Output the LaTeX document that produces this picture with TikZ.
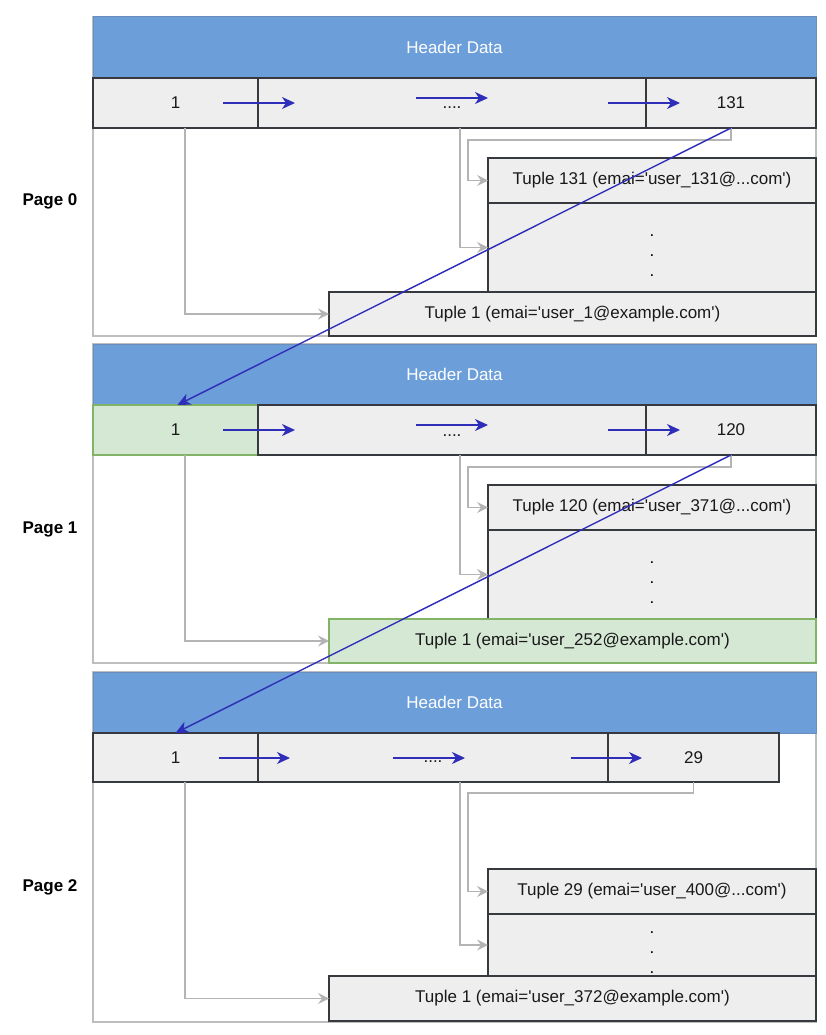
\documentclass[tikz,border=0pt]{standalone}
\usepackage{fontspec}
\setmainfont{Liberation Sans}[Ligatures=TeXOff]
\usetikzlibrary{arrows.meta}
\definecolor{hdrfill}{RGB}{108,158,218}
\definecolor{hdrline}{RGB}{108,142,191}
\definecolor{cellfill}{RGB}{238,238,238}
\definecolor{cellline}{RGB}{54,57,61}
\definecolor{grnfill}{RGB}{213,232,212}
\definecolor{grnline}{RGB}{130,179,102}
\definecolor{pageline}{RGB}{190,190,190}
\definecolor{conn}{RGB}{180,180,180}
\definecolor{ptr}{RGB}{46,46,184}
\tikzset{
  base/.style={inner sep=0pt, outer sep=0pt, anchor=north west, font=\fontsize{17}{20}\selectfont, text=black!90},
  hdr/.style={base, draw=hdrline, fill=hdrfill, line width=1pt, text=white},
  cellbox/.style={base, draw=cellline, fill=cellfill, line width=1.2pt},
  grnbox/.style={base, draw=grnline, fill=grnfill, line width=1.2pt},
  pagebox/.style={base, draw=pageline, line width=1.5pt},
  pglabel/.style={inner sep=0pt, font=\fontsize{17}{20}\selectfont\bfseries},
  dots/.style={align=center, inner sep=0pt, font=\fontsize{17}{20}\selectfont},
  garrow/.style={draw=conn, line width=1.3pt, -{Stealth[length=11pt,width=11pt,inset=4pt]}},
  barrow/.style={draw=ptr, line width=1.4pt, -{Stealth[length=13pt,width=12pt,inset=4pt]}},
}
\begin{document}
\begin{tikzpicture}[x=1pt,y=-1pt]
\useasboundingbox (0,0) rectangle (825,1035);

% ---------------- Page 0 ----------------
\node[pagebox, minimum width=723, minimum height=319] (p0) at (93,17) {};
\node[hdr, minimum width=723, minimum height=61] (p0h) at (93,17) {Header Data};
\node[cellbox, minimum width=165, minimum height=50] (p0c1) at (93,78) {1};
\node[cellbox, minimum width=388, minimum height=50] (p0c2) at (258,78) {\raisebox{-6pt}[0pt][0pt]{....}};
\node[cellbox, minimum width=170, minimum height=50] (p0c3) at (646,78) {131};
\node[cellbox, minimum width=328, minimum height=45] (p0t) at (488,158) {Tuple 131 (emai='user\_131@...com')};
\node[cellbox, minimum width=328, minimum height=89] (p0d) at (488,203) {};
\node[dots] (p0dt) at ([yshift=-8pt]p0d.center) {.\\.\\.};
\node[cellbox, minimum width=487, minimum height=44] (p0b) at (329,292) {Tuple 1 (emai='user\_1@example.com')};
\node[pglabel] (p0l) at (50,201) {Page 0};

% ---------------- Page 1 ----------------
\node[pagebox, minimum width=723, minimum height=319] (p1) at (93,344) {};
\node[hdr, minimum width=723, minimum height=61] (p1h) at (93,344) {Header Data};
\node[grnbox, minimum width=165, minimum height=50] (p1c1) at (93,405) {1};
\node[cellbox, minimum width=388, minimum height=50] (p1c2) at (258,405) {\raisebox{-6pt}[0pt][0pt]{....}};
\node[cellbox, minimum width=170, minimum height=50] (p1c3) at (646,405) {120};
\node[cellbox, minimum width=328, minimum height=45] (p1t) at (488,485) {Tuple 120 (emai='user\_371@...com')};
\node[cellbox, minimum width=328, minimum height=89] (p1d) at (488,530) {};
\node[dots] (p1dt) at ([yshift=-8pt]p1d.center) {.\\.\\.};
\node[grnbox, minimum width=487, minimum height=44] (p1b) at (329,619) {Tuple 1 (emai='user\_252@example.com')};
\node[pglabel] (p1l) at (50,529) {Page 1};

% ---------------- Page 2 ----------------
\node[pagebox, minimum width=723, minimum height=350] (p2) at (93,672) {};
\node[hdr, minimum width=723, minimum height=61] (p2h) at (93,672) {Header Data};
\node[cellbox, minimum width=165, minimum height=49] (p2c1) at (93,733) {1};
\node[cellbox, minimum width=350, minimum height=49] (p2c2) at (258,733) {\raisebox{-5pt}[0pt][0pt]{....}};
\node[cellbox, minimum width=171, minimum height=49] (p2c3) at (608,733) {29};
\node[cellbox, minimum width=328, minimum height=45] (p2t) at (488,869) {Tuple 29 (emai='user\_400@...com')};
\node[cellbox, minimum width=328, minimum height=62] (p2d) at (488,914) {};
\node[dots] (p2dt) at ([yshift=-8pt]p2d.center) {.\\.\\.};
\node[cellbox, minimum width=487, minimum height=45] (p2b) at (329,976) {Tuple 1 (emai='user\_372@example.com')};
\node[pglabel] (p2l) at (50,887) {Page 2};

% ---------------- grey slot connectors ----------------
\draw[garrow] ([xshift=9.5pt]p0c1.south) |- (p0b.west);
\draw[garrow] ([xshift=8pt]p0c2.south) |- (p0d.west);
\draw[garrow] (p0c3.south) -- ++(0,12) -| ([xshift=-20pt]p0t.west) -- (p0t.west);

\draw[garrow] ([xshift=9.5pt]p1c1.south) |- (p1b.west);
\draw[garrow] ([xshift=8pt]p1c2.south) |- (p1d.west);
\draw[garrow] (p1c3.south) -- ++(0,12) -| ([xshift=-20pt]p1t.west) -- (p1t.west);

\draw[garrow] ([xshift=9.5pt]p2c1.south) |- (p2b.west);
\draw[garrow] ([xshift=27pt]p2c2.south) |- (p2d.west);
\draw[garrow] (p2c3.south) -- ++(0,11) -| ([xshift=-20pt]p2t.west) -- (p2t.west);

% ---------------- blue row arrows ----------------
\draw[barrow] ([xshift=47.5pt]p0c1.center) -- ([xshift=37pt]p0c2.west);
\draw[barrow] ([xshift=-36pt,yshift=5pt]p0c2.center) -- ([xshift=36pt,yshift=5pt]p0c2.center);
\draw[barrow] ([xshift=-38pt]p0c3.west) -- ([xshift=34pt]p0c3.west);

\draw[barrow] ([xshift=47.5pt]p1c1.center) -- ([xshift=37pt]p1c2.west);
\draw[barrow] ([xshift=-36pt,yshift=5pt]p1c2.center) -- ([xshift=36pt,yshift=5pt]p1c2.center);
\draw[barrow] ([xshift=-38pt]p1c3.west) -- ([xshift=34pt]p1c3.west);

\draw[barrow] ([xshift=43pt,yshift=-0.5pt]p2c1.center) -- ([xshift=32pt,yshift=-0.5pt]p2c2.west);
\draw[barrow] ([xshift=-40pt,yshift=-0.5pt]p2c2.center) -- ([xshift=32pt,yshift=-0.5pt]p2c2.center);
\draw[barrow] ([xshift=-37.5pt,yshift=-0.5pt]p2c3.west) -- ([xshift=34pt,yshift=-0.5pt]p2c3.west);

% ---------------- page links ----------------
\draw[barrow] (p0c3.south) -- ([xshift=2pt]p1c1.north);
\draw[barrow] (p1c3.south) -- ([xshift=0pt]p2c1.north);
\end{tikzpicture}
\end{document}
